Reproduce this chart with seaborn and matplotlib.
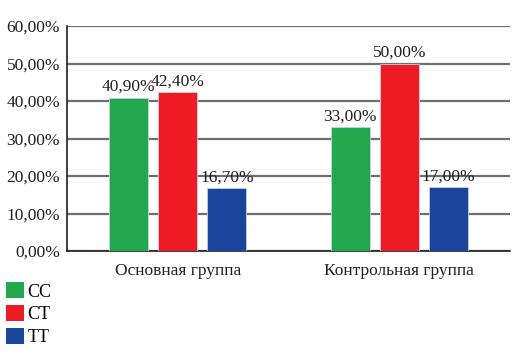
import pandas as pd
import matplotlib.pyplot as plt
import seaborn as sns
from matplotlib.patches import Patch

# Daten
groups = ['Основная группа', 'Контрольная группа']
genotypes = ['CC', 'CT', 'TT']
cc_values = [40.9, 33.0]
ct_values = [42.4, 50.0]
tt_values = [16.7, 17.0]
colors = ['#21A84F', '#ED1C24', '#1B449C']
y_ticks = [0, 10, 20, 30, 40, 50, 60]

df = pd.DataFrame({
    'group': groups * 3,
    'genotype': [g for g in genotypes for _ in groups],
    'value': cc_values + ct_values + tt_values,
})

plt.rcParams['font.family'] = ['Liberation Serif', 'DejaVu Serif']

fig = plt.figure(figsize=(5.19, 3.53), dpi=100)
ax = fig.add_axes([0.129, 0.289, 0.854, 0.637])

sns.barplot(data=df, x='group', y='value', hue='genotype', order=groups,
            hue_order=genotypes, palette=colors, saturation=1, width=0.664, gap=0.2,
            edgecolor='#c8d0dc', linewidth=0.6, legend=False, ax=ax, zorder=3)

# Beschriftung der Balken
for container in ax.containers:
    labels = [f'{v:.2f}%'.replace('.', ',') for v in container.datavalues]
    ax.bar_label(container, labels=labels, padding=2, fontsize=12.5, color='#231f20')

ax.set_xlim(-0.5, 1.5)
ax.set_ylim(0, 60)

# Horizontale Gitterlinien
ax.set_axisbelow(True)
ax.yaxis.grid(True, color='#6d6e71', linewidth=1.6)

ax.set_yticks(y_ticks)
ax.set_yticklabels([f'{t},00%' for t in y_ticks], fontsize=12.5, color='#231f20')
ax.tick_params(axis='y', length=0, pad=5)
ax.tick_params(axis='x', length=0, pad=9, labelsize=12.5, labelcolor='#231f20')
ax.set_xlabel('')
ax.set_ylabel('')
for s in ['top', 'right']:
    ax.spines[s].set_visible(False)
ax.spines['left'].set_color('#231f20')
ax.spines['bottom'].set_color('#231f20')
ax.spines['left'].set_linewidth(1.2)
ax.spines['bottom'].set_linewidth(1.2)

# Legende unten links
handles = [Patch(facecolor=c, edgecolor='none') for c in colors]
fig.legend(handles, genotypes, loc='lower left', bbox_to_anchor=(-0.005, -0.006),
           frameon=False, fontsize=13, handlelength=1.0, handleheight=1.0,
           handletextpad=0.15, labelspacing=0.25, borderaxespad=0.1)

plt.savefig('out.png', dpi=100)
